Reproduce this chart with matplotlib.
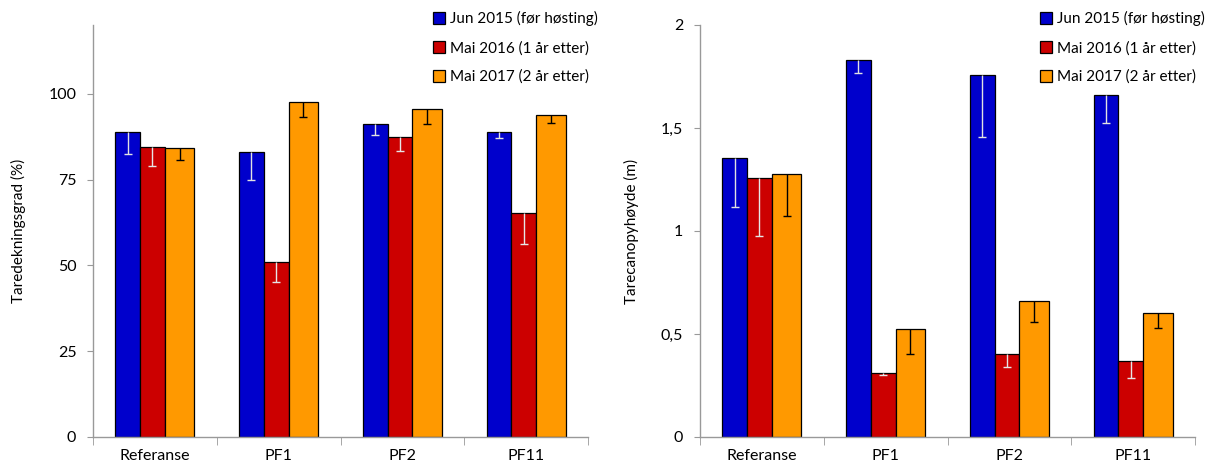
import numpy as np
import matplotlib
matplotlib.use("Agg")
import matplotlib.pyplot as plt
from matplotlib.ticker import FuncFormatter, FixedLocator

plt.rcParams['font.family'] = ['Lato', 'DejaVu Sans']

# stasjoner og tidspunkt
stasjoner = ["Referanse", "PF1", "PF2", "PF11"]
serier = ["Jun 2015 (før høsting)", "Mai 2016 (1 år etter)", "Mai 2017 (2 år etter)"]

# taredekningsgrad (%) og nedre feil
dekning_2015 = [88.8, 82.9, 91.1, 88.8]
dekning_2016 = [84.6, 51.1, 87.3, 65.1]
dekning_2017 = [84.3, 97.6, 95.6, 93.8]
dekning_feil_2015 = [6.5, 7.9, 3.0, 1.8]
dekning_feil_2016 = [5.6, 6.0, 3.9, 8.9]
dekning_feil_2017 = [3.6, 4.3, 4.5, 2.2]

# tarecanopyhøyde (m) og nedre feil
hoyde_2015 = [1.356, 1.830, 1.757, 1.660]
hoyde_2016 = [1.256, 0.312, 0.404, 0.369]
hoyde_2017 = [1.275, 0.522, 0.658, 0.600]
hoyde_feil_2015 = [0.24, 0.063, 0.30, 0.137]
hoyde_feil_2016 = [0.28, 0.011, 0.063, 0.083]
hoyde_feil_2017 = [0.20, 0.12, 0.10, 0.071]

farger = ["#0000CC", "#CC0000", "#FF9900"]
feilfarger = ["#e2e2e2", "#e6e6e6", "#000000"]
venstre = [-0.32, -0.12, 0.08]
bredder = [0.20, 0.20, 0.24]


def tegn(ax, verdier, feil, ymax, ticks, ylabel, fmt):
    x = np.arange(len(stasjoner))
    for i in range(3):
        xs = x + venstre[i] + bredder[i] / 2
        y = np.array(verdier[i])
        ned = np.array(feil[i])
        ax.bar(xs, y, width=bredder[i], color=farger[i],
               edgecolor="black", linewidth=0.9, label=serier[i], zorder=2)
        # bare nedre feilstolpe, med strek i bunnen
        ax.errorbar(xs, y, yerr=[ned, np.zeros_like(ned)], fmt="none",
                    ecolor=feilfarger[i], elinewidth=1.0, capsize=0, zorder=3)
        ax.plot(xs, y - ned, linestyle="none", marker="_", markersize=6,
                markeredgewidth=1.0, color=feilfarger[i], zorder=3)
    ax.set_xlim(-0.5, len(stasjoner) - 0.5)
    ax.set_ylim(0, ymax)
    ax.set_yticks(ticks)
    ax.yaxis.set_major_formatter(FuncFormatter(fmt))
    ax.set_xticks(x)
    ax.set_xticklabels(stasjoner)
    ax.xaxis.set_minor_locator(FixedLocator(np.arange(-0.5, len(stasjoner), 1.0)))
    ax.tick_params(axis="x", which="major", length=0, pad=9, labelsize=11.5)
    ax.tick_params(axis="x", which="minor", length=6, color="#999999", direction="out")
    ax.tick_params(axis="y", length=4, color="#999999", pad=8, labelsize=11.5)
    for s in ["top", "right"]:
        ax.spines[s].set_visible(False)
    for s in ["left", "bottom"]:
        ax.spines[s].set_color("#999999")
        ax.spines[s].set_linewidth(1.0)
    ax.set_ylabel(ylabel, fontsize=11, labelpad=16)
    ax.legend(loc="upper left", bbox_to_anchor=(0.675, 1.048), frameon=False,
              fontsize=11, handlelength=0.8, handleheight=0.8, handletextpad=0.3,
              labelspacing=0.95, borderaxespad=0)


fig = plt.figure(figsize=(12.19, 4.70), dpi=100)
ax1 = fig.add_axes([93 / 1219, 33 / 470, 495 / 1219, 412 / 470])
ax2 = fig.add_axes([700 / 1219, 33 / 470, 495 / 1219, 412 / 470])

tegn(ax1, [dekning_2015, dekning_2016, dekning_2017],
     [dekning_feil_2015, dekning_feil_2016, dekning_feil_2017],
     120, [0, 25, 50, 75, 100], "Taredekningsgrad (%)",
     lambda v, p: f"{v:.0f}")
tegn(ax2, [hoyde_2015, hoyde_2016, hoyde_2017],
     [hoyde_feil_2015, hoyde_feil_2016, hoyde_feil_2017],
     2, [0, 0.5, 1, 1.5, 2], "Tarecanopyhøyde (m)",
     lambda v, p: f"{v:g}".replace(".", ","))

fig.savefig("out.png", dpi=100)
